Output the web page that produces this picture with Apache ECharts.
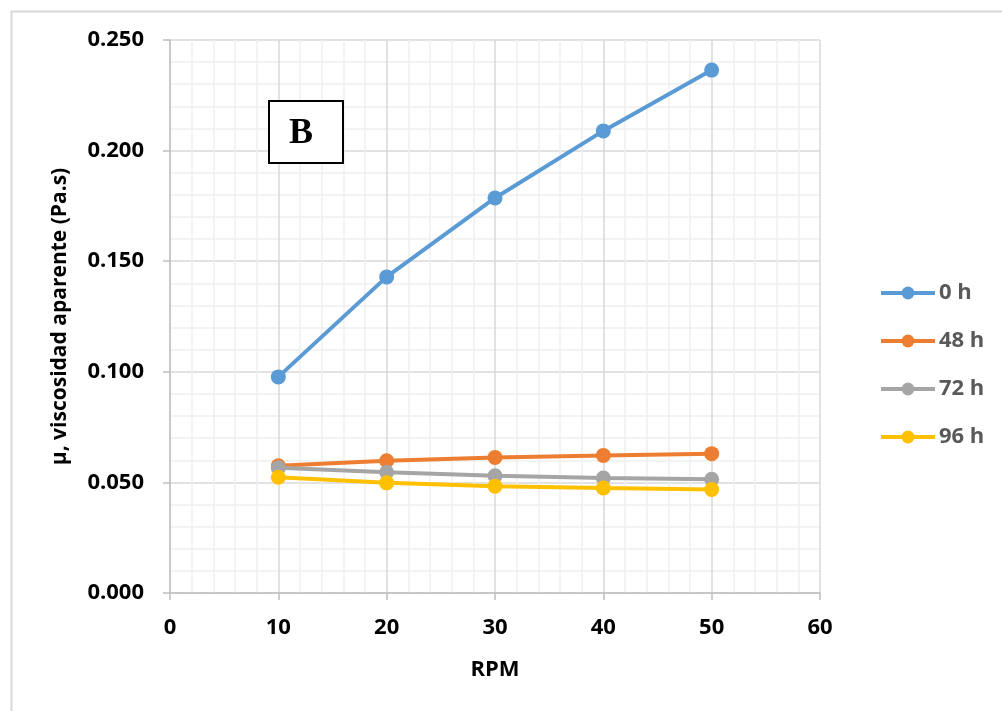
<!DOCTYPE html>
<html>
<head>
<meta charset="utf-8">
<script src="https://cdn.jsdelivr.net/npm/echarts@6/dist/echarts.min.js"></script>
<style>
html,body{margin:0;padding:0;background:#fff;}
#c{width:1002px;height:711px;}
</style>
</head>
<body>
<div id="c"></div>
<script>
const rpm = [10, 20, 30, 40, 50];
const seriesNames = ['0 h', '48 h', '72 h', '96 h'];
const h0 = [0.0977, 0.1429, 0.1786, 0.2089, 0.2364];
const h48 = [0.0575, 0.0598, 0.0613, 0.0622, 0.0630];
const h72 = [0.0566, 0.0546, 0.0530, 0.0520, 0.0514];
const h96 = [0.0523, 0.0498, 0.0483, 0.0475, 0.0468];
const colors = ['#5b9bd5', '#ed7d31', '#a5a5a5', '#ffc000'];
const allValues = [h0, h48, h72, h96];

const chart = echarts.init(document.getElementById('c'), null, {renderer: 'canvas'});
const font = '"Open Sans", "Liberation Sans", sans-serif';

const series = seriesNames.map((n, i) => ({
  name: n,
  type: 'line',
  data: rpm.map((x, j) => [x, allValues[i][j]]),
  symbol: 'circle',
  symbolSize: 15,
  lineStyle: {width: 4, color: colors[i]},
  itemStyle: {color: colors[i]},
  z: 10 + i
}));

chart.setOption({
  animation: false,
  backgroundColor: '#fff',
  grid: {left: 170, right: 182, top: 40, bottom: 118},
  xAxis: {
    type: 'value', min: 0, max: 60, interval: 10,
    name: 'RPM', nameLocation: 'middle', nameGap: 66,
    nameTextStyle: {fontFamily: font, fontWeight: 'bold', fontSize: 22, color: '#000'},
    axisLine: {show: true, lineStyle: {color: '#bfbfbf', width: 1.5}},
    axisTick: {show: true, length: 7, lineStyle: {color: '#bfbfbf', width: 1.5}},
    axisLabel: {fontFamily: font, fontWeight: 'bold', fontSize: 22, color: '#000', margin: 24},
    splitLine: {show: true, lineStyle: {color: '#d9d9d9', width: 1.5}},
    minorTick: {show: false, splitNumber: 5},
    minorSplitLine: {show: true, lineStyle: {color: '#f0f0f0', width: 1.5}}
  },
  yAxis: {
    type: 'value', min: 0, max: 0.25, interval: 0.05,
    name: 'μ, viscosidad aparente (Pa.s)', nameLocation: 'middle', nameGap: 99,
    nameRotate: 90,
    nameTextStyle: {fontFamily: font, fontWeight: 'bold', fontSize: 21, color: '#000'},
    axisLine: {show: true, lineStyle: {color: '#bfbfbf', width: 1.5}},
    axisTick: {show: true, length: 7, lineStyle: {color: '#bfbfbf', width: 1.5}},
    axisLabel: {fontFamily: font, fontWeight: 'bold', fontSize: 22, color: '#000', margin: 26,
      formatter: v => v.toFixed(3)},
    splitLine: {show: true, lineStyle: {color: '#d9d9d9', width: 1.5}},
    minorTick: {show: false, splitNumber: 5},
    minorSplitLine: {show: true, lineStyle: {color: '#f0f0f0', width: 1.5}}
  },
  legend: {
    orient: 'vertical', left: 874, top: 277, itemGap: 26,
    itemWidth: 54, itemHeight: 16,
    data: seriesNames.map(n => ({name: n, lineStyle: {width: 4}})),
    textStyle: {fontFamily: font, fontWeight: 'bold', fontSize: 22, color: '#595959', padding: [0,0,0,-1]}
  },
  graphic: [
    {type: 'rect', left: 9, top: 9, shape: {width: 1100, height: 800},
      style: {fill: 'none', stroke: '#d9d9d9', lineWidth: 2}, z: -1, silent: true},
    {type: 'rect', left: 268, top: 100, shape: {width: 74, height: 62},
      style: {fill: '#fff', stroke: '#000', lineWidth: 2}, z: 100},
    {type: 'text', x: 301, y: 134, z: 101,
      style: {text: 'B', font: 'bold 36px "Liberation Serif", "DejaVu Serif", serif', fill: '#000',
        align: 'center', verticalAlign: 'middle'}}
  ],
  series: series
});
</script>
</body>
</html>
